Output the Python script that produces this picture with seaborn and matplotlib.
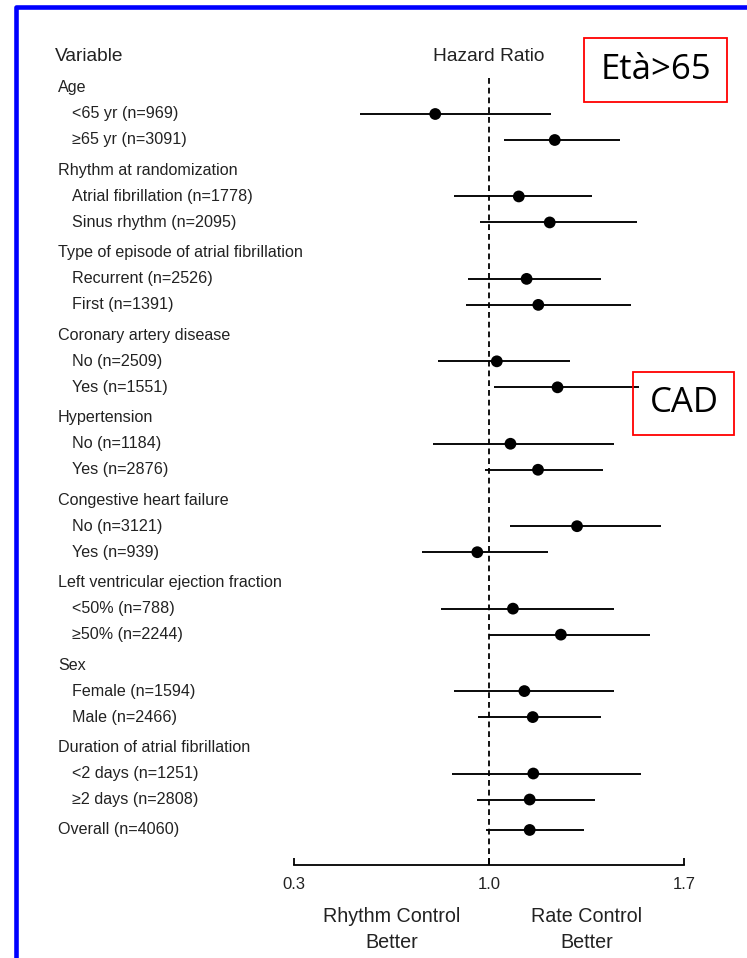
import numpy as np
import pandas as pd
import seaborn as sns
import matplotlib
matplotlib.use("Agg")
import matplotlib.pyplot as plt
from matplotlib.patches import Rectangle
from matplotlib import transforms

# ---------------- data ----------------
group_headers = [
    "Age",
    "Rhythm at randomization",
    "Type of episode of atrial fibrillation",
    "Coronary artery disease",
    "Hypertension",
    "Congestive heart failure",
    "Left ventricular ejection fraction",
    "Sex",
    "Duration of atrial fibrillation",
]
sub_labels = [
    ["<65 yr (n=969)", "≥65 yr (n=3091)"],
    ["Atrial fibrillation (n=1778)", "Sinus rhythm (n=2095)"],
    ["Recurrent (n=2526)", "First (n=1391)"],
    ["No (n=2509)", "Yes (n=1551)"],
    ["No (n=1184)", "Yes (n=2876)"],
    ["No (n=3121)", "Yes (n=939)"],
    ["<50% (n=788)", "≥50% (n=2244)"],
    ["Female (n=1594)", "Male (n=2466)"],
    ["<2 days (n=1251)", "≥2 days (n=2808)"],
]
overall_label = "Overall (n=4060)"

hazard_ratio = [0.807, 1.236, 1.107, 1.218, 1.135, 1.177, 1.028, 1.246, 1.077,
                1.176, 1.316, 0.958, 1.086, 1.258, 1.127, 1.157, 1.159, 1.146, 1.146]
ci_low = [0.537, 1.055, 0.876, 0.968, 0.926, 0.916, 0.816, 1.017, 0.799,
          0.987, 1.077, 0.758, 0.829, 1.000, 0.876, 0.959, 0.868, 0.957, 0.988]
ci_high = [1.221, 1.469, 1.370, 1.530, 1.401, 1.509, 1.290, 1.539, 1.450,
           1.408, 1.616, 1.212, 1.448, 1.577, 1.448, 1.402, 1.547, 1.382, 1.340]

x_ticks = [0.3, 1.0, 1.7]
x_tick_labels = ["0.3", "1.0", "1.7"]

# ---------------- layout ----------------
W, H = 747, 958
sns.set_theme(style="white")
plt.rcParams["font.family"] = ["Liberation Sans", "DejaVu Sans"]

fig = plt.figure(figsize=(W / 100, H / 100), dpi=100)
fig.patch.set_facecolor("white")

ax_left, ax_right = 294, 684
ax_top, ax_bottom = 40, 865
ax = fig.add_axes([ax_left / W, 1 - ax_bottom / H, (ax_right - ax_left) / W,
                   (ax_bottom - ax_top) / H])
ax.set_xlim(0.3, 1.7)
ax.set_ylim(ax_bottom, ax_top)   # y measured in px from top
ax.set_facecolor("none")

# row positions
step, extra = 26.0, 4.44
y = 88.0
header_y, sub_y = [], []
for g, subs in zip(group_headers, sub_labels):
    header_y.append(y)
    y += step
    for s in subs:
        sub_y.append(y)
        y += step
    y += extra
overall_y = y
row_y = sub_y + [overall_y]
row_labels = [s for subs in sub_labels for s in subs] + [overall_label]

df = pd.DataFrame({"label": row_labels, "y": row_y, "hr": hazard_ratio,
                   "lo": ci_low, "hi": ci_high})

# reference line
ax.vlines(1.0, 78, ax_bottom, colors="black", linestyles=(0, (3.2, 2.2)), lw=1.3, zorder=1)
# CI lines
ax.hlines(df["y"], df["lo"], df["hi"], colors="black", lw=1.35, zorder=4)
sns.scatterplot(data=df, x="hr", y="y", color="black", s=72, edgecolor="none",
                ax=ax, zorder=5, legend=False)
ax.set_xlabel("")
ax.set_ylabel("")

for sp in ["top", "left", "right"]:
    ax.spines[sp].set_visible(False)
ax.spines["bottom"].set_color("black")
ax.spines["bottom"].set_linewidth(1.3)
ax.set_yticks([])
ax.set_xticks(x_ticks)
ax.set_xticklabels(x_tick_labels, fontsize=12, color="#222222")
ax.tick_params(axis="x", bottom=True, direction="in", length=5, width=1.3,
               color="black", pad=8.5)

# labels
tr = transforms.blended_transform_factory(fig.transFigure, ax.transData)
lab_fs = 11.6
for g, yy in zip(group_headers, header_y):
    ax.text(58 / W, yy, g, transform=tr, ha="left", va="center", fontsize=lab_fs,
            color="#222222")
for lab, yy in zip(row_labels[:-1], sub_y):
    ax.text(72 / W, yy, lab, transform=tr, ha="left", va="center", fontsize=lab_fs,
            color="#222222")
ax.text(58 / W, overall_y, overall_label, transform=tr, ha="left", va="center",
        fontsize=lab_fs, color="#222222")

ax.text(55 / W, 57, "Variable", transform=tr, ha="left", va="center", fontsize=13.8,
        color="#222222")
ax.text(1.0, 57, "Hazard Ratio", ha="center", va="center", fontsize=13.8,
        color="#222222", clip_on=False)

ax.text(0.65, 929.5, "Rhythm Control\nBetter", ha="center", va="center", fontsize=14.2,
        linespacing=1.42, color="#222222", clip_on=False)
ax.text(1.35, 929.5, "Rate Control\nBetter", ha="center", va="center", fontsize=14.2,
        linespacing=1.42, color="#222222", clip_on=False)

# annotation boxes
def px_rect(x0, y0, x1, y1, **kw):
    return Rectangle((x0 / W, 1 - y1 / H), (x1 - x0) / W, (y1 - y0) / H,
                     transform=fig.transFigure, **kw)

fig.patches.append(px_rect(584, 38, 727, 102, fill=True, facecolor="white",
                           edgecolor="#ff0000", lw=1.3, zorder=2))
fig.text(655.5 / W, 1 - 70 / H, "Età>65", ha="center", va="center", fontsize=25,
         family=["Open Sans", "DejaVu Sans"], color="black", zorder=3)
fig.patches.append(px_rect(633, 372, 734, 435, fill=False,
                           edgecolor="#ff0000", lw=1.3, zorder=0))
fig.text(684 / W, 1 - 403 / H, "CAD", ha="center", va="center", fontsize=25,
         family=["Open Sans", "DejaVu Sans"], color="black")

# blue frame (left and top edges visible)
fig.patches.append(Rectangle((15.8 / W, -0.2), 2.0, 1.2 - 7 / H, transform=fig.transFigure,
                             fill=False, edgecolor="#0000ff", lw=3.3, joinstyle="round"))

fig.savefig("out.png", dpi=100, facecolor="white")
